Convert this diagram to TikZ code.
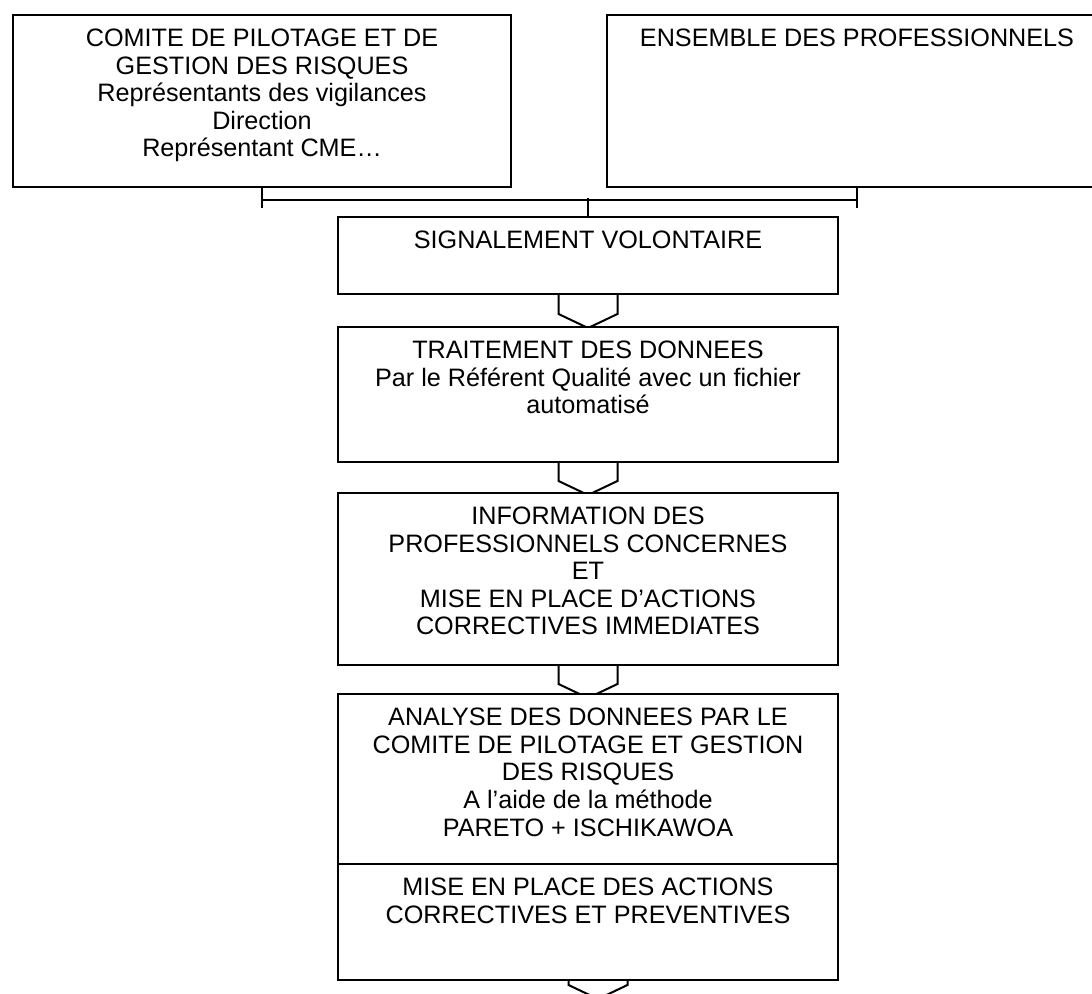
\documentclass[tikz,border=0pt]{standalone}
\usepackage{fontspec}
\setmainfont{Liberation Sans}
\usetikzlibrary{backgrounds}
\begin{document}
\begin{tikzpicture}[x=0.5pt,y=-0.5pt,
  box/.style={draw, line width=1pt, fill=white, inner sep=0pt, anchor=north west},
  lbl/.style={anchor=north, align=center, inner sep=0pt, yshift=-7.3pt,
              font=\fontsize{12.6}{13.8}\selectfont},
  conn/.style={line width=1pt},
  chev/.style={line width=1pt, line join=miter}]
\useasboundingbox (0,0) rectangle (1092,994);
\clip (0,0) rectangle (1092,994);

% top boxes
\node[box, minimum width=249pt, minimum height=86pt] (cp) at (12,14) {};
\node[lbl] (cpt) at (cp.north) {COMITE DE PILOTAGE ET DE\\GESTION DES RISQUES\\Représentants des vigilances\\Direction\\Représentant CME…};
\node[box, minimum width=250pt, minimum height=86pt] (ep) at (606,14) {};
\node[lbl] (ept) at (ep.north) {ENSEMBLE DES PROFESSIONNELS};

% central column
\node[box, minimum width=250pt, minimum height=38.5pt] (sig) at (337,216) {};
\node[lbl] (sigt) at (sig.north) {SIGNALEMENT VOLONTAIRE};
\node[box, minimum width=250pt, minimum height=67.5pt] (trt) at (337,326) {};
\node[lbl] (trtt) at (trt.north) {TRAITEMENT DES DONNEES\\Par le Référent Qualité avec un fichier\\automatisé};
\node[box, minimum width=250pt, minimum height=86pt] (inf) at (337,492) {};
\node[lbl] (inft) at (inf.north) {INFORMATION DES\\PROFESSIONNELS CONCERNES\\ET\\MISE EN PLACE D’ACTIONS\\CORRECTIVES IMMEDIATES};
\node[box, minimum width=250pt, minimum height=85pt] (ana) at (337,693) {};
\node[lbl] (anat) at (ana.north) {ANALYSE DES DONNEES PAR LE\\COMITE DE PILOTAGE ET GESTION\\DES RISQUES\\A l’aide de la méthode\\PARETO + ISCHIKAWOA};
\node[box, minimum width=250pt, minimum height=58pt] (mep) at (337,863) {};
\node[lbl] (mept) at (mep.north) {MISE EN PLACE DES ACTIONS\\CORRECTIVES ET PREVENTIVES};

% bracket joining the two top boxes
\draw[conn] (cp.south) -- ++(0,20);
\draw[conn] (ep.south) -- ++(0,20);
\draw[conn] ([yshift=-6pt]cp.south) -- ([yshift=-6pt]ep.south);
\draw[conn] (sig.north) -- ++(0,-18);

% chevron arrows
\begin{pgfonlayer}{background}
\draw[chev] ([xshift=-14.75pt]sig.south) -- ++(0,19) -- ++(29.5,14) -- ++(29.5,-14) -- ++(0,-19);
\draw[chev] ([xshift=-14.75pt]trt.south) -- ++(0,18) -- ++(29.5,14) -- ++(29.5,-14) -- ++(0,-18);
\draw[chev] ([xshift=-14.75pt]inf.south) -- ++(0,18) -- ++(29.5,14) -- ++(29.5,-14) -- ++(0,-18);
\draw[chev] ([xshift=-9.75pt]mep.south) -- ++(0,4) -- ++(29.5,14) -- ++(29.5,-14) -- ++(0,-4);
\end{pgfonlayer}
\end{tikzpicture}
\end{document}
